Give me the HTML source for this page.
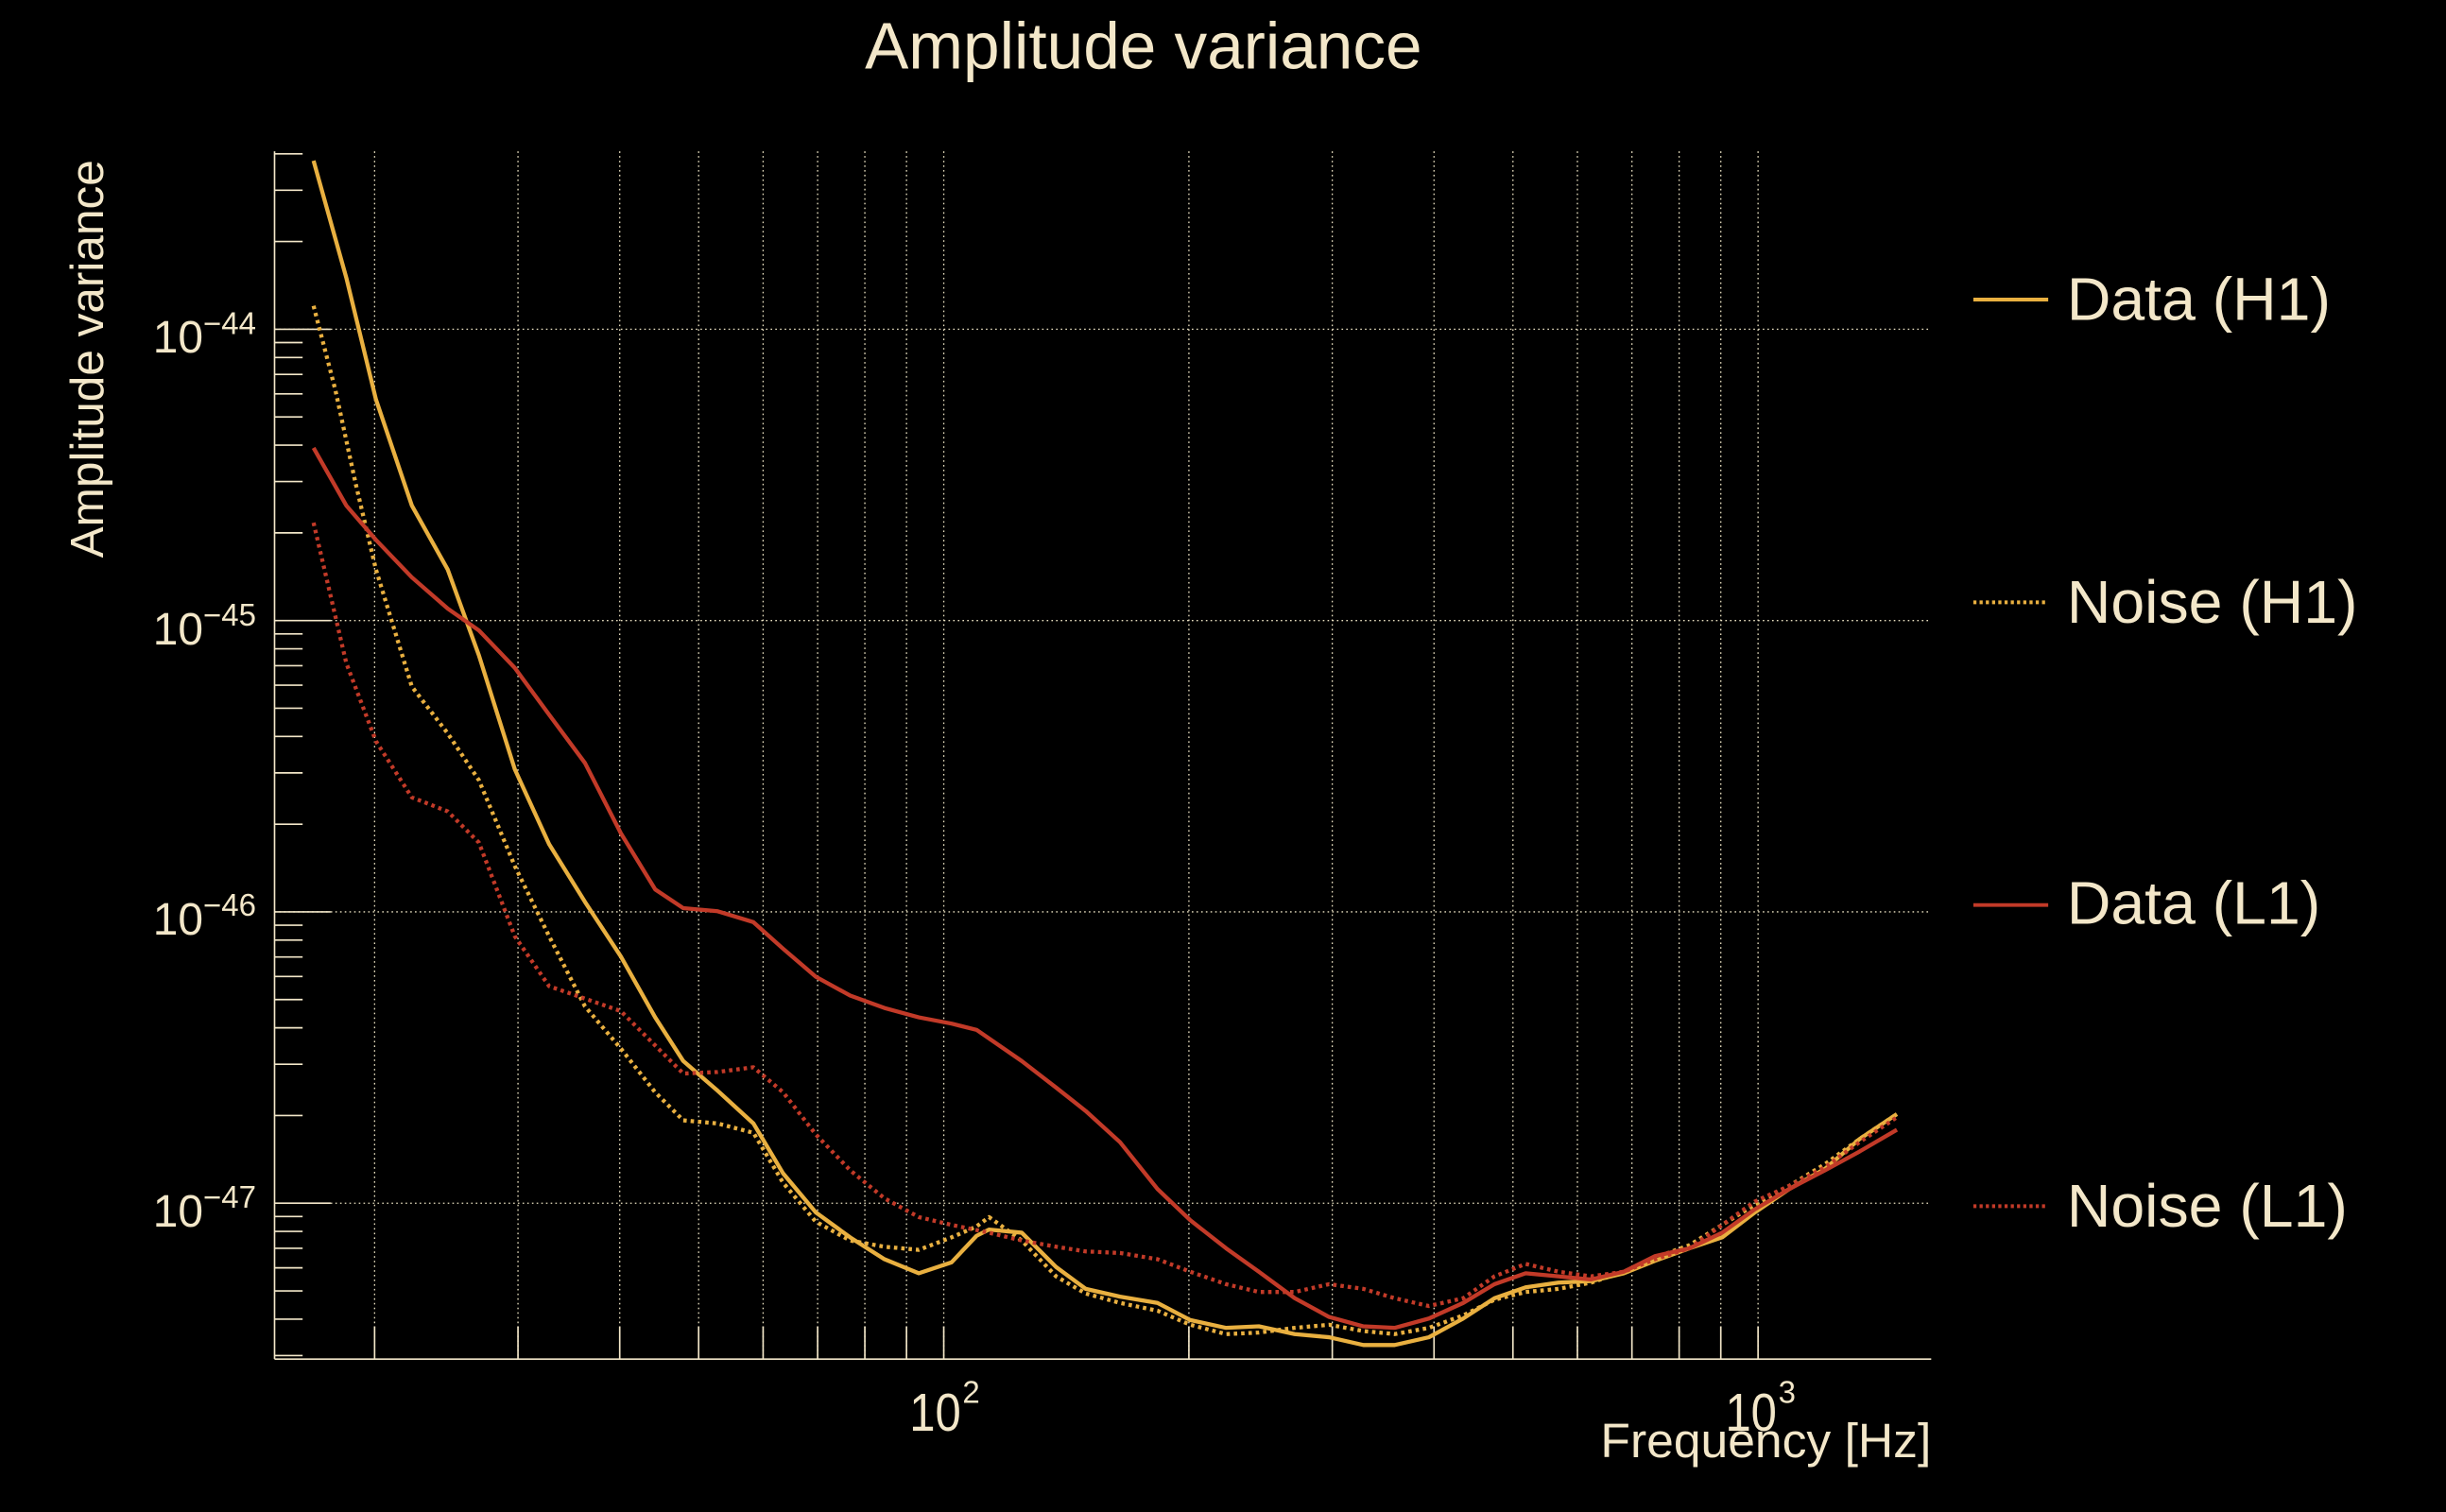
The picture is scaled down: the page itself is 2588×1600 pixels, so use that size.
<!DOCTYPE html>
<html><head><meta charset="utf-8"><style>
html,body{margin:0;padding:0;background:#000;}
svg{display:block;}
text{font-family:"Liberation Sans",sans-serif;fill:#f3e7c9;}
</style></head><body>
<svg id="s" width="2588" height="1600" viewBox="0 0 1568 969" preserveAspectRatio="none">
<rect width="1568" height="969" fill="#000"/>
<g id="grid" stroke="#e8dfc0" stroke-width="0.8" stroke-dasharray="1 2" fill="none"></g>
<g id="ticks" stroke="#f3e7c9" stroke-width="1" fill="none"></g>
<line x1="176" y1="97" x2="176" y2="871" stroke="#f3e7c9" stroke-width="1"/>
<line x1="176" y1="871" x2="1238" y2="871" stroke="#f3e7c9" stroke-width="1"/>
<g fill="none" stroke-width="2.6" stroke-linejoin="round">
<polyline stroke="#e9b040" points="201,103 222,178 241,256 264,324 287,365 307,420 330,493 352,541 375,578 398,613 420,652 438,680 460,699 483,720 502,752 523,777 545,793 567,807 589,816 610,809 626,792 634,788 655,790 677,812 696,826 718,831 742,835 763,846 786,851 807,850 830,855 852,857 874,862 894,862 916,857 938,845 958,832 978,825 999,822 1020,821 1041,816 1061,808 1083,800 1104,793 1125,777 1147,762 1170,749 1192,730 1216,714"/>
<polyline stroke="#e9b040" stroke-dasharray="2.2 2.5" points="201,196 215,250 228,310 241,365 264,440 287,470 307,500 330,555 352,600 375,645 398,672 420,700 438,718 460,720 483,726 502,758 523,783 545,795 567,799 589,801 610,793 626,786 634,780 655,795 677,818 696,829 718,835 742,840 763,849 786,855 807,854 830,851 852,849 874,853 894,855 916,851 938,843 958,833 978,828 999,826 1020,822 1041,815 1061,806 1083,798 1104,785 1125,772 1147,760 1170,746 1192,730 1216,714"/>
<polyline stroke="#c23a28" points="201,287 222,324 241,346 264,370 287,390 307,404 330,428 352,458 375,489 398,534 420,570 438,582 460,584 483,591 502,608 523,626 545,638 567,646 589,652 610,656 626,660 655,680 677,697 696,712 718,732 742,762 763,782 786,800 807,815 830,832 852,844 874,850 894,851 916,845 938,835 958,823 978,816 999,818 1020,820 1041,815 1061,805 1083,800 1104,790 1125,775 1147,762 1170,750 1192,738 1216,724"/>
<polyline stroke="#c23a28" stroke-dasharray="2.2 2.5" points="201,335 222,425 241,475 264,511 287,520 307,540 330,600 352,632 375,640 398,648 420,670 438,688 460,687 483,684 502,700 523,727 545,750 567,768 589,780 610,785 634,790 655,795 677,799 696,802 718,803 742,807 763,815 786,823 807,828 830,828 852,823 874,826 894,832 916,837 938,832 958,818 978,810 999,815 1020,818 1041,815 1061,807 1083,800 1104,785 1125,770 1147,760 1170,748 1192,732 1216,716"/>
</g>
<text x="733" y="44" font-size="42" text-anchor="middle">Amplitude variance</text>
<text transform="translate(66,230) rotate(-90)" font-size="30" text-anchor="middle">Amplitude variance</text>
<text x="1238" y="934" font-size="31" text-anchor="end" textLength="212" lengthAdjust="spacingAndGlyphs">Frequency [Hz]</text>
<g font-size="29">
<text x="98" y="226">10<tspan dy="-12" font-size="20">−44</tspan></text>
<text x="98" y="413">10<tspan dy="-12" font-size="20">−45</tspan></text>
<text x="98" y="599">10<tspan dy="-12" font-size="20">−46</tspan></text>
<text x="98" y="786">10<tspan dy="-12" font-size="20">−47</tspan></text>
<text x="583" y="917" font-size="34" textLength="33" lengthAdjust="spacingAndGlyphs">10</text><text x="617" y="899" font-size="20">2</text>
<text x="1106" y="917" font-size="34" textLength="33" lengthAdjust="spacingAndGlyphs">10</text><text x="1140" y="899" font-size="20">3</text>
</g>
<g stroke-width="2.4">
<line x1="1265" y1="192" x2="1313" y2="192" stroke="#e9b040"/>
<line x1="1265" y1="386" x2="1313" y2="386" stroke="#e9b040" stroke-dasharray="2 2"/>
<line x1="1265" y1="580" x2="1313" y2="580" stroke="#c23a28"/>
<line x1="1265" y1="773" x2="1313" y2="773" stroke="#c23a28" stroke-dasharray="2 2"/>
</g>
<g font-size="39">
<text x="1325" y="205">Data (H1)</text>
<text x="1325" y="399">Noise (H1)</text>
<text x="1325" y="592">Data (L1)</text>
<text x="1325" y="786">Noise (L1)</text>
</g>
</svg>
<script>
(function(){
var ns="http://www.w3.org/2000/svg";
var g=document.getElementById("grid"),t=document.getElementById("ticks");
function L(p,x1,y1,x2,y2){var l=document.createElementNS(ns,"line");l.setAttribute("x1",x1);l.setAttribute("y1",y1);l.setAttribute("x2",x2);l.setAttribute("y2",y2);p.appendChild(l);}
function X(f){return 605+522*(Math.log10(f)-2);}
function Y(lv){return 211+186.7*(-44-lv);}
var fs=[20,30,40,50,60,70,80,90,100,200,300,400,500,600,700,800,900,1000];
fs.forEach(function(f){var x=X(f);L(g,x,97,x,871);L(t,x,871,x,850);});
[-44,-45,-46,-47].forEach(function(k){L(g,176,Y(k),1238,Y(k));});
for(var k=-48;k<=-44;k++){for(var m=1;m<10;m++){var lv=k+Math.log10(m);var y=Y(lv);if(y<97||y>871)continue;L(t,176,y,m==1?212:194,y);}}
})();
</script>
</body></html>
